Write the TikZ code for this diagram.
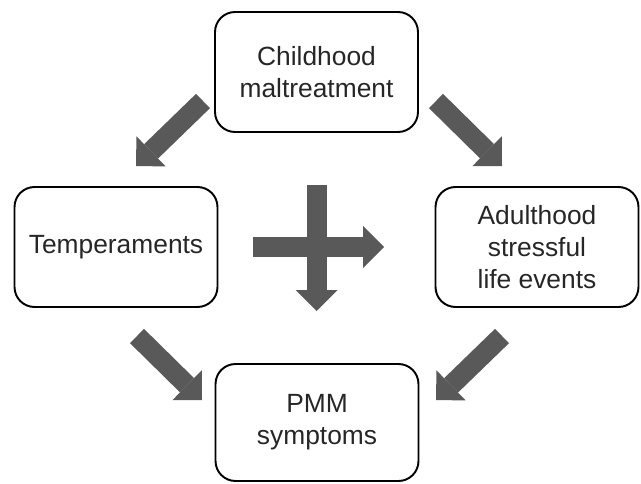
\documentclass[tikz,border=0pt]{standalone}
\usepackage{fontspec}
\setmainfont{Liberation Sans}
\usepackage{xcolor}
\usetikzlibrary{positioning,arrows.meta,calc}
\definecolor{arrowgray}{RGB}{89,89,89}
\definecolor{textgray}{RGB}{38,38,38}

\begin{document}
\begin{tikzpicture}[x=0.02cm,y=-0.02cm,
        box/.style={draw, line width=1.1pt, rounded corners=0.4cm,
            minimum width=4.06cm, minimum height=2.4cm, align=center,
            text=textgray, font=\fontsize{15}{18.2}\selectfont},
        fatarrow/.style={draw=arrowgray, line width=0.4cm,
            -{Triangle[width=0.84cm,length=0.42cm,line width=0pt]}}]
        \useasboundingbox (0,0) rectangle (641,483);
        % boxes
        \node[box] (child) at (316.5,72) {Childhood\\maltreatment};
        \node[box] (temp) at (116,247) {Temperaments};
        \node[box] (adult) at (537,247) {Adulthood\\stressful\\life events};
        \node[box, minimum height=2.34cm] (pmm) at (317,422.5) {PMM\\symptoms};
        % arrow ends
        \coordinate (ctA) at (203,101);
        \coordinate (ctB) at (136,166);
        \coordinate (caA) at (436,101);
        \coordinate (caB) at (502,166);
        \coordinate (tpA) at (137,336);
        \coordinate (tpB) at (202,400);
        \coordinate (apA) at (502,336);
        \coordinate (apB) at (436,400);
        \coordinate (hA) at (253,247);
        \coordinate (hB) at (384,247);
        \coordinate (vA) at (316.5,185);
        \coordinate (vB) at (316.5,311);
        % arrows
        \draw[fatarrow] (ctA) -- (ctB);
        \draw[fatarrow] (caA) -- (caB);
        \draw[fatarrow] (tpA) -- (tpB);
        \draw[fatarrow] (apA) -- (apB);
        \draw[fatarrow] (hA) -- (hB);
        \draw[fatarrow] (vA) -- (vB);
    \end{tikzpicture}
\end{document}
